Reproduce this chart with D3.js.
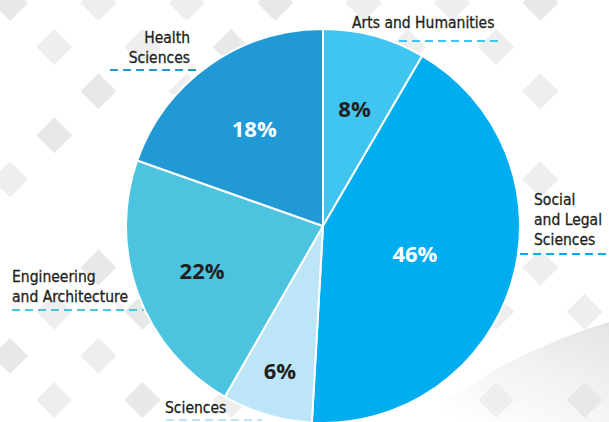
<!DOCTYPE html>
<html>
<head>
<meta charset="utf-8">
<script src="https://cdn.jsdelivr.net/npm/d3@7"></script>
<style>
  html, body { margin: 0; padding: 0; background: #fff; overflow: hidden; }
</style>
</head>
<body>
<div id="chart"></div>
<script>
// slices, clockwise from 12 o'clock
var categories = ["Arts and Humanities", "Social and Legal Sciences", "Sciences", "Engineering and Architecture", "Health Sciences"];
var shares = [8.4, 42.5, 7.4, 22.1, 19.6];          // slice sizes as drawn in the picture
var pctLabels = ["8%", "46%", "6%", "22%", "18%"];   // printed values
var sliceColors = ["#40c5f1", "#00aeef", "#bde5f8", "#4cc4e0", "#2099d5"];
var pctColors = ["#231f20", "#ffffff", "#231f20", "#231f20", "#ffffff"];

var width = 609, height = 422;
var cx = 323, cy = 226, radius = 197;

// label layout (text lines, anchor, first baseline, leader line)
var labelLayout = [
  { lines: ["Arts and Humanities"], anchor: "start", x: 352, y: 28, lx1: 399, lx2: 502, ly: 41 },
  { lines: ["Social", "and Legal", "Sciences"], anchor: "start", x: 534, y: 205, lx1: 520, lx2: 609, ly: 254 },
  { lines: ["Sciences"], anchor: "start", x: 165, y: 413, lx1: 166, lx2: 262, ly: 420 },
  { lines: ["Engineering", "and Architecture"], anchor: "start", x: 12, y: 282, lx1: 12, lx2: 170, ly: 310 },
  { lines: ["Health", "Sciences"], anchor: "end", x: 190, y: 43, lx1: 110, lx2: 198, ly: 70 }
];
var pctRadius = [121, 96, 151, 129, 119];

// background diamond lattice cells (column, row) that are visible
var diamondCells = [
  [0,0],[2,0],[4,0],[6,0],[8,0],[10,0],[12,0],
  [1,1],[3,1],[5,1],[9,1],[11,1],
  [2,2],[4,2],[12,2],
  [1,3],
  [0,4],[12,4],
  [2,6],[12,6],
  [1,7],[3,7],[11,7],[13,7],
  [0,8],[2,8],
  [1,9],[3,9],[5,9],[11,9],[13,9]
];

var svg = d3.select("#chart").append("svg")
    .attr("width", width)
    .attr("height", height);

var defs = svg.append("defs");
var grad = defs.append("linearGradient")
    .attr("id", "swoosh")
    .attr("x1", "1").attr("y1", "0").attr("x2", "0.2").attr("y2", "1");
grad.append("stop").attr("offset", "0").attr("stop-color", "#e4e4e4");
grad.append("stop").attr("offset", "0.5").attr("stop-color", "#f3f3f3");
grad.append("stop").attr("offset", "1").attr("stop-color", "#ffffff");

// background swoosh
svg.append("path")
    .attr("d", "M420,422 Q500,355 609,322 L609,422 Z")
    .attr("fill", "url(#swoosh)");

// background diamonds
var dx = d3.scaleLinear().domain([0, 1]).range([10, 54.2]);
var dy = d3.scaleLinear().domain([0, 1]).range([3, 47.1]);
var half = 18;
svg.append("g").attr("class", "diamonds")
  .selectAll("path")
  .data(diamondCells)
  .enter().append("path")
    .attr("d", function (d) {
      var x = dx(d[0]), y = dy(d[1]);
      return "M" + x + "," + (y - half) + "L" + (x + half) + "," + y +
             "L" + x + "," + (y + half) + "L" + (x - half) + "," + y + "Z";
    })
    .attr("fill", function (d, i) { return i % 3 === 0 ? "#e7e8e8" : "#eeeeee"; });

// leader lines (drawn under the pie)
var color = d3.scaleOrdinal().domain(categories).range(sliceColors);
svg.append("g").attr("class", "leaders")
  .selectAll("line")
  .data(labelLayout)
  .enter().append("line")
    .attr("x1", function (d) { return d.lx1; })
    .attr("x2", function (d) { return d.lx2; })
    .attr("y1", function (d) { return d.ly; })
    .attr("y2", function (d) { return d.ly; })
    .attr("stroke", function (d, i) { return color(categories[i]); })
    .attr("stroke-width", 2)
    .attr("stroke-dasharray", "8,5");

// pie
var pie = d3.pie().sort(null).value(function (d) { return d; });
var arcs = pie(shares);
var arc = d3.arc().innerRadius(0).outerRadius(radius);

var g = svg.append("g")
    .attr("transform", "translate(" + cx + "," + cy + ")");

g.selectAll(".slice")
  .data(arcs)
  .enter().append("path")
    .attr("class", "slice")
    .attr("d", arc)
    .attr("fill", function (d, i) { return color(categories[i]); })
    .attr("stroke", "#ffffff")
    .attr("stroke-width", 2)
    .attr("stroke-linejoin", "round");

// percentage labels
g.selectAll(".pct")
  .data(arcs)
  .enter().append("text")
    .attr("class", "pct")
    .attr("transform", function (d, i) {
      var r = pctRadius[i];
      var c = d3.arc().innerRadius(r).outerRadius(r).centroid(d);
      return "translate(" + c[0] + "," + c[1] + ")";
    })
    .attr("dy", "0.36em")
    .attr("text-anchor", "middle")
    .style("font-family", "'Open Sans', sans-serif")
    .style("font-weight", 700)
    .style("font-size", "22px")
    .attr("fill", function (d, i) { return pctColors[i]; })
    .text(function (d, i) { return pctLabels[i]; });

// category labels
var labels = svg.append("g").attr("class", "labels")
  .selectAll("text")
  .data(labelLayout)
  .enter().append("text")
    .attr("x", function (d) { return d.x; })
    .attr("y", function (d) { return d.y; })
    .attr("text-anchor", function (d) { return d.anchor; })
    .style("font-family", "'DejaVu Sans Condensed', 'DejaVu Sans', sans-serif")
    .style("font-size", "15.5px")
    .attr("fill", "#231f20")
    .attr("stroke", "#231f20")
    .attr("stroke-width", 0.3);

labels.selectAll("tspan")
  .data(function (d) { return d.lines.map(function (t) { return { t: t, x: d.x }; }); })
  .enter().append("tspan")
    .attr("x", function (d) { return d.x; })
    .attr("dy", function (d, i) { return i === 0 ? 0 : 20; })
    .text(function (d) { return d.t; });
</script>
</body>
</html>
